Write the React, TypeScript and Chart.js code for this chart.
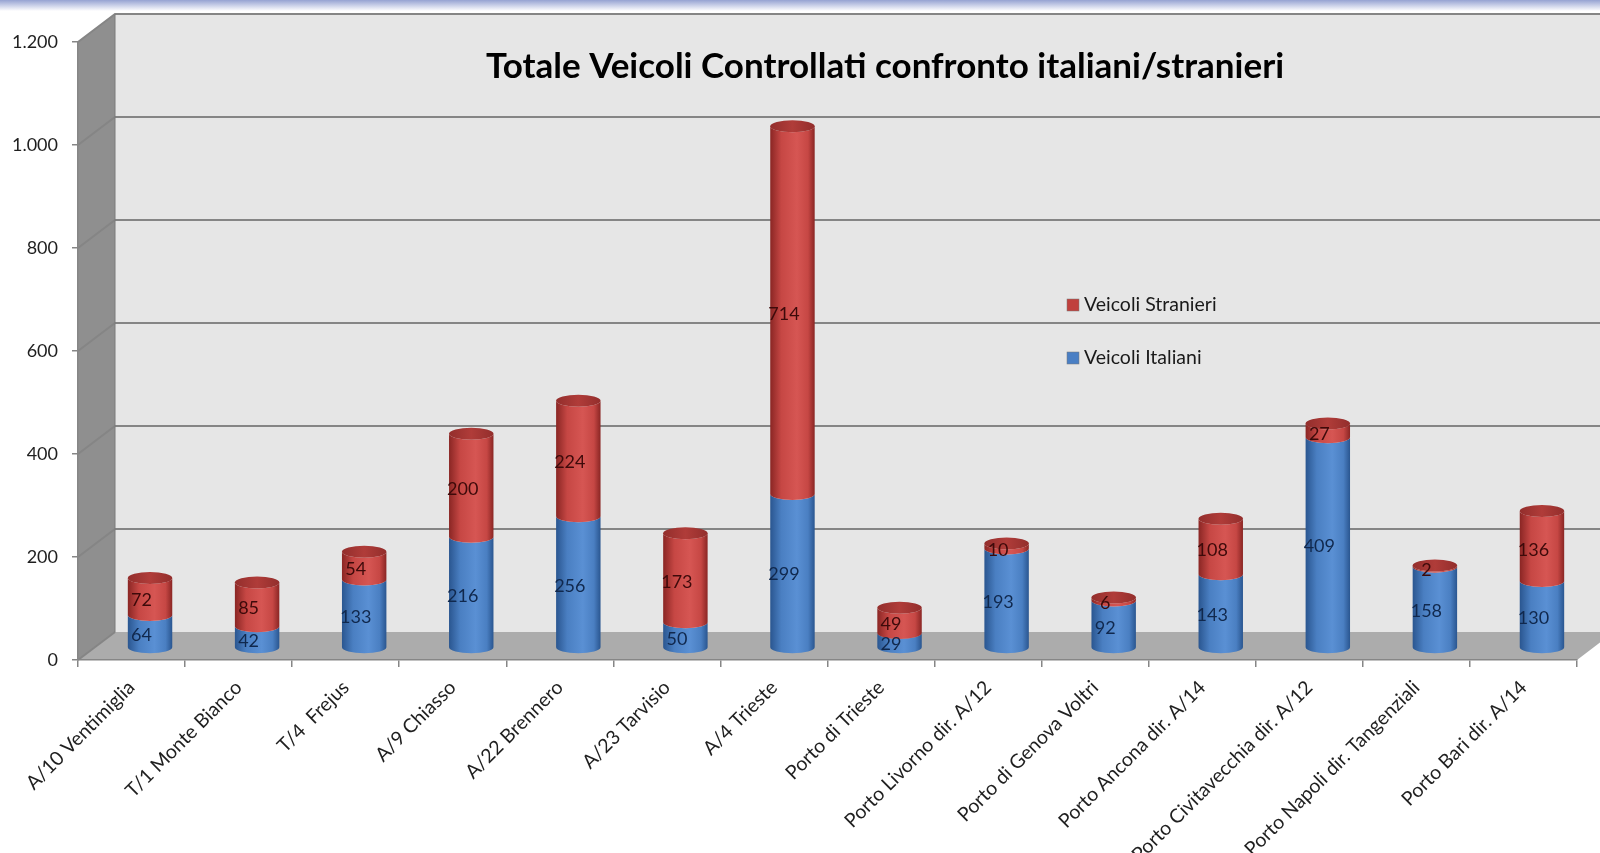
import React, { useEffect, useRef } from "react";
import { Chart, registerables } from "chart.js";

Chart.register(...registerables);

const title = "Totale Veicoli Controllati confronto italiani/stranieri";

const categories = [
  "A/10 Ventimiglia",
  "T/1 Monte Bianco",
  "T/4  Frejus",
  "A/9 Chiasso",
  "A/22 Brennero",
  "A/23 Tarvisio",
  "A/4 Trieste",
  "Porto di Trieste",
  "Porto Livorno dir. A/12",
  "Porto di Genova Voltri",
  "Porto Ancona dir. A/14",
  "Porto Civitavecchia dir. A/12",
  "Porto Napoli dir. Tangenziali",
  "Porto Bari dir. A/14",
];

const veicoliItaliani = [64, 42, 133, 216, 256, 50, 299, 29, 193, 92, 143, 409, 158, 130];
const veicoliStranieri = [72, 85, 54, 200, 224, 173, 714, 49, 10, 6, 108, 27, 2, 136];

const yTickValues = [0, 200, 400, 600, 800, 1000, 1200];
const yTickLabels = ["0", "200", "400", "600", "800", "1.000", "1.200"];

const seriesNames = ["Veicoli Italiani", "Veicoli Stranieri"];

// depth offset of the 3D box
const DX = 37;
const DY = -28;

const palette = [
  { dark: "#2a5690", mid: "#4a7fc2", light: "#5a90d4", cap: "#4a7fc4", text: "#10284d" },
  { dark: "#8a2624", mid: "#c64744", light: "#d65653", cap: "#b03c39", text: "#3d0a0a" },
];

const scenePlugin = {
  id: "scene3d",
  beforeDraw(chart: any) {
    const ctx = chart.ctx;
    const { left, right, top, bottom } = chart.chartArea;
    const W = chart.width;
    ctx.save();
    // top bluish band
    const g = ctx.createLinearGradient(0, 0, 0, 11);
    g.addColorStop(0, "#96a3d2");
    g.addColorStop(1, "#ffffff");
    ctx.fillStyle = g;
    ctx.fillRect(0, 0, W, 11);

    // back wall
    ctx.fillStyle = "#e6e6e6";
    ctx.fillRect(left + DX, top + DY, W - (left + DX), bottom - top);

    // side wall
    ctx.fillStyle = "#8f8f8f";
    ctx.beginPath();
    ctx.moveTo(left, bottom);
    ctx.lineTo(left, top);
    ctx.lineTo(left + DX, top + DY);
    ctx.lineTo(left + DX, bottom + DY);
    ctx.closePath();
    ctx.fill();

    // floor
    ctx.fillStyle = "#acacac";
    ctx.beginPath();
    ctx.moveTo(left, bottom);
    ctx.lineTo(right, bottom);
    ctx.lineTo(right + DX, bottom + DY);
    ctx.lineTo(left + DX, bottom + DY);
    ctx.closePath();
    ctx.fill();

    // gridlines
    const ys = chart.scales.y;
    ctx.strokeStyle = "#858585";
    ctx.lineWidth = 2;
    yTickValues.forEach((v) => {
      const py = ys.getPixelForValue(v);
      ctx.beginPath();
      ctx.moveTo(left, py);
      ctx.lineTo(left + DX, py + DY);
      if (v > 0) ctx.lineTo(W, py + DY);
      ctx.stroke();
    });
    // back corner
    ctx.strokeStyle = "#7a7a7a";
    ctx.lineWidth = 1;
    ctx.beginPath();
    ctx.moveTo(left + DX, top + DY);
    ctx.lineTo(left + DX, bottom + DY);
    ctx.stroke();
    ctx.restore();
  },
  afterDatasetsDraw(chart: any) {
    const ctx = chart.ctx;
    ctx.save();
    const drawSeg = (cx: number, r: number, ry: number, yT: number, yB: number) => {
      ctx.beginPath();
      ctx.moveTo(cx - r, yT);
      ctx.lineTo(cx - r, yB);
      ctx.ellipse(cx, yB, r, ry, 0, Math.PI, 0, true);
      ctx.lineTo(cx + r, yT);
      ctx.ellipse(cx, yT, r, ry, 0, 0, Math.PI, false);
      ctx.closePath();
    };
    const nData = categories.length;
    const labels: any[] = [];
    for (let i = 0; i < nData; i++) {
      for (let d = 0; d < chart.data.datasets.length; d++) {
        const el = chart.getDatasetMeta(d).data[i];
        const p = el.getProps(["x", "y", "base", "width"], true);
        const cx = p.x + DX / 2;
        const r = p.width / 2;
        const ry = r * 0.27;
        const yT = p.y + DY / 2 + 2;
        const yB = p.base + DY / 2 + 2;
        const col = palette[d];
        const gr = ctx.createLinearGradient(cx - r, 0, cx + r, 0);
        gr.addColorStop(0, col.dark);
        gr.addColorStop(0.25, col.mid);
        gr.addColorStop(0.6, col.light);
        gr.addColorStop(0.85, col.mid);
        gr.addColorStop(1, col.dark);
        ctx.fillStyle = gr;
        drawSeg(cx, r, ry, yT, yB);
        ctx.fill();
        if (d === chart.data.datasets.length - 1) {
          const cg = ctx.createLinearGradient(cx - r, 0, cx + r, 0);
          cg.addColorStop(0, "#932e2c");
          cg.addColorStop(0.5, col.cap);
          cg.addColorStop(1, "#932e2c");
          ctx.fillStyle = cg;
          ctx.beginPath();
          ctx.ellipse(cx, yT, r, ry, 0, 0, Math.PI * 2);
          ctx.fill();
        }
        const v = chart.data.datasets[d].data[i];
        labels.push({ x: p.x + 10, y: (p.y + p.base) / 2 - 8, text: String(v), color: col.text });
      }
    }
    ctx.font = "18px Lato";
    ctx.textAlign = "center";
    ctx.textBaseline = "middle";
    labels.forEach((l) => {
      ctx.fillStyle = l.color;
      ctx.fillText(l.text, l.x, l.y);
    });

    // title
    ctx.fillStyle = "#000000";
    ctx.font = "bold 35px Lato";
    ctx.textAlign = "center";
    ctx.textBaseline = "alphabetic";
    ctx.fillText(title, 885, 78);

    // legend
    const legendItems = [
      { name: chart.data.datasets[1].label, color: "#c0403d", y: 305 },
      { name: chart.data.datasets[0].label, color: "#4a7fc4", y: 358 },
    ];
    ctx.font = "19.5px Lato";
    ctx.textAlign = "left";
    ctx.textBaseline = "middle";
    legendItems.forEach((it) => {
      ctx.fillStyle = it.color;
      ctx.fillRect(1067, it.y - 6, 12, 12);
      ctx.strokeStyle = "#7a7a7a";
      ctx.lineWidth = 0.5;
      ctx.strokeRect(1067, it.y - 6, 12, 12);
      ctx.fillStyle = "#1a1a1a";
      ctx.fillText(it.name, 1084, it.y);
    });
    ctx.restore();
  },
};

export default function App() {
  const ref = useRef<HTMLCanvasElement | null>(null);
  useEffect(() => {
    if (!ref.current) return;
    Chart.defaults.font.family = "Lato";
    const chart = new Chart(ref.current, {
      type: "bar",
      data: {
        labels: categories,
        datasets: [
          {
            label: seriesNames[0],
            data: veicoliItaliani,
            backgroundColor: "rgba(0,0,0,0)",
            borderWidth: 0,
            barPercentage: 0.83,
            categoryPercentage: 0.5,
          },
          {
            label: seriesNames[1],
            data: veicoliStranieri,
            backgroundColor: "rgba(0,0,0,0)",
            borderWidth: 0,
            barPercentage: 0.83,
            categoryPercentage: 0.5,
          },
        ],
      },
      options: {
        responsive: false,
        animation: false,
        layout: { padding: { top: 42, right: 23, left: 0, bottom: 0 } },
        plugins: {
          legend: { display: false },
          title: { display: false },
          tooltip: { enabled: false },
        },
        scales: {
          x: {
            stacked: true,
            offset: true,
            afterFit: (s: any) => {
              s.height = 193;
            },
            grid: {
              display: true,
              drawOnChartArea: false,
              offset: true,
              tickLength: 7,
              color: "#868686",
              lineWidth: 1.5,
            },
            border: { display: true, color: "#868686", width: 1.5 },
            ticks: {
              minRotation: 45,
              maxRotation: 45,
              autoSkip: false,
              padding: 9,
              color: "#1f1f1f",
              font: { size: 19.5, family: "Lato" },
            },
          },
          y: {
            stacked: true,
            min: 0,
            max: 1200,
            afterFit: (s: any) => {
              s.width = 78;
            },
            afterBuildTicks: (s: any) => {
              s.ticks = yTickValues.map((v) => ({ value: v }));
            },
            grid: {
              display: true,
              drawOnChartArea: false,
              tickLength: 6,
              color: "#868686",
              lineWidth: 1.5,
            },
            border: { display: true, color: "#868686", width: 1.5 },
            ticks: {
              padding: 14,
              color: "#1f1f1f",
              font: { size: 18, family: "Lato" },
              callback: (v: any) => {
                const idx = yTickValues.indexOf(Number(v));
                return idx >= 0 ? yTickLabels[idx] : "";
              },
            },
          },
        },
      },
      plugins: [scenePlugin],
    });
    return () => chart.destroy();
  }, []);
  return (
    <div style={{ position: "fixed", left: 0, top: 0, width: 1600, height: 853, background: "#ffffff" }}>
      <canvas ref={ref} width={1600} height={853} style={{ display: "block" }} />
    </div>
  );
}
